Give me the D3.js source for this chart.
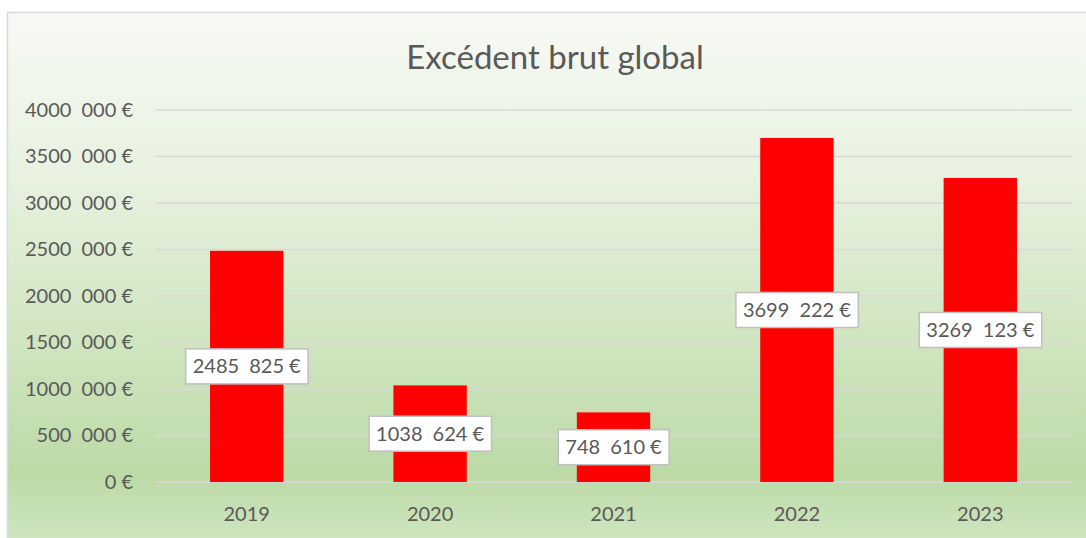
<!DOCTYPE html>
<html>
<head>
<meta charset="utf-8">
<script src="https://cdn.jsdelivr.net/npm/d3@7"></script>
<style>
  body { margin: 0; background: #ffffff; }
  svg { display: block; font-family: Lato, "Open Sans", sans-serif; }
</style>
</head>
<body>
<svg id="chart" width="1086" height="538"></svg>
<script>
// chart data
const years = ["2019", "2020", "2021", "2022", "2023"];
const values = [2485825, 1038624, 748610, 3699222, 3269123];
const yTicks = [0, 500000, 1000000, 1500000, 2000000, 2500000, 3000000, 3500000, 4000000];
const chartTitle = "Excédent brut global";

// french style number: "4000 000 €" (only the last group separated)
function euro(v) {
    if (v === 0) return "0 €";
    const s = String(v);
    if (s.length <= 3) return s + " €";
    return s.slice(0, -3) + "\u2005 " + s.slice(-3) + " €";
}

const svg = d3.select("#chart");
const width = 1086, height = 538;
const margin = { top: 110, right: 14, bottom: 56, left: 155 };

// background gradient
const defs = svg.append("defs");
const grad = defs.append("linearGradient")
    .attr("id", "bg")
    .attr("x1", 0).attr("y1", 0).attr("x2", 0).attr("y2", 1);
grad.append("stop").attr("offset", "0%").attr("stop-color", "#f7f9f4");
grad.append("stop").attr("offset", "30%").attr("stop-color", "#e8f2e0");
grad.append("stop").attr("offset", "86%").attr("stop-color", "#bcdaa6");
grad.append("stop").attr("offset", "100%").attr("stop-color", "#d2e7c5");

svg.append("rect")
    .attr("x", 7.5).attr("y", 12.5)
    .attr("width", width).attr("height", height)
    .attr("fill", "url(#bg)")
    .attr("stroke", "#d9d9d9")
    .attr("stroke-width", 1.5);

// scales
const x = d3.scaleBand()
    .domain(years)
    .range([margin.left, width - margin.right])
    .paddingInner(0.6)
    .paddingOuter(0.3);

const y = d3.scaleLinear()
    .domain([0, 4000000])
    .range([height - margin.bottom, margin.top]);

// gridlines
svg.append("g")
    .selectAll("line")
    .data(yTicks)
    .join("line")
    .attr("x1", margin.left)
    .attr("x2", width - margin.right)
    .attr("y1", d => y(d))
    .attr("y2", d => y(d))
    .attr("stroke", "#d9d9d9")
    .attr("stroke-width", 1.5);

// y axis labels
const yAxis = svg.append("g")
    .attr("transform", `translate(${margin.left - 22},0)`)
    .call(d3.axisLeft(y).tickValues(yTicks).tickSize(0).tickFormat(euro));
yAxis.select(".domain").remove();
yAxis.selectAll("text")
    .attr("x", 0)
    .style("white-space", "pre")
    .attr("fill", "#595959")
    .style("font-size", "20px")
    .style("font-family", "Lato, sans-serif");

// x axis labels
const xAxis = svg.append("g")
    .attr("transform", `translate(0,${height - margin.bottom + 22})`)
    .call(d3.axisBottom(x).tickSize(0));
xAxis.select(".domain").remove();
xAxis.selectAll("text")
    .attr("fill", "#595959")
    .style("font-size", "20px")
    .style("font-family", "Lato, sans-serif");

// bars
svg.append("g")
    .selectAll("rect")
    .data(values)
    .join("rect")
    .attr("x", (d, i) => x(years[i]))
    .attr("y", d => y(d))
    .attr("width", x.bandwidth())
    .attr("height", d => y(0) - y(d))
    .attr("fill", "#ff0000");

// data labels centred in the bars
const labels = svg.append("g")
    .selectAll("g")
    .data(values)
    .join("g")
    .attr("transform", (d, i) => `translate(${x(years[i]) + x.bandwidth() / 2},${(y(d) + y(0)) / 2})`);

labels.append("text")
    .attr("text-anchor", "middle")
    .attr("dy", "0.35em")
    .style("white-space", "pre")
    .style("font-size", "20px")
    .attr("fill", "#595959")
    .text(d => euro(d));

labels.each(function () {
    const g = d3.select(this);
    const bb = g.select("text").node().getBBox();
    g.insert("rect", "text")
        .attr("x", bb.x - 7)
        .attr("y", -17.5)
        .attr("width", bb.width + 14)
        .attr("height", 35)
        .attr("fill", "#ffffff")
        .attr("stroke", "#bfbfbf")
        .attr("stroke-width", 1.5);
});

// title
svg.append("text")
    .attr("x", 555)
    .attr("y", 69)
    .attr("text-anchor", "middle")
    .style("font-size", "33px")
    .attr("fill", "#595959")
    .text(chartTitle);
</script>
</body>
</html>
